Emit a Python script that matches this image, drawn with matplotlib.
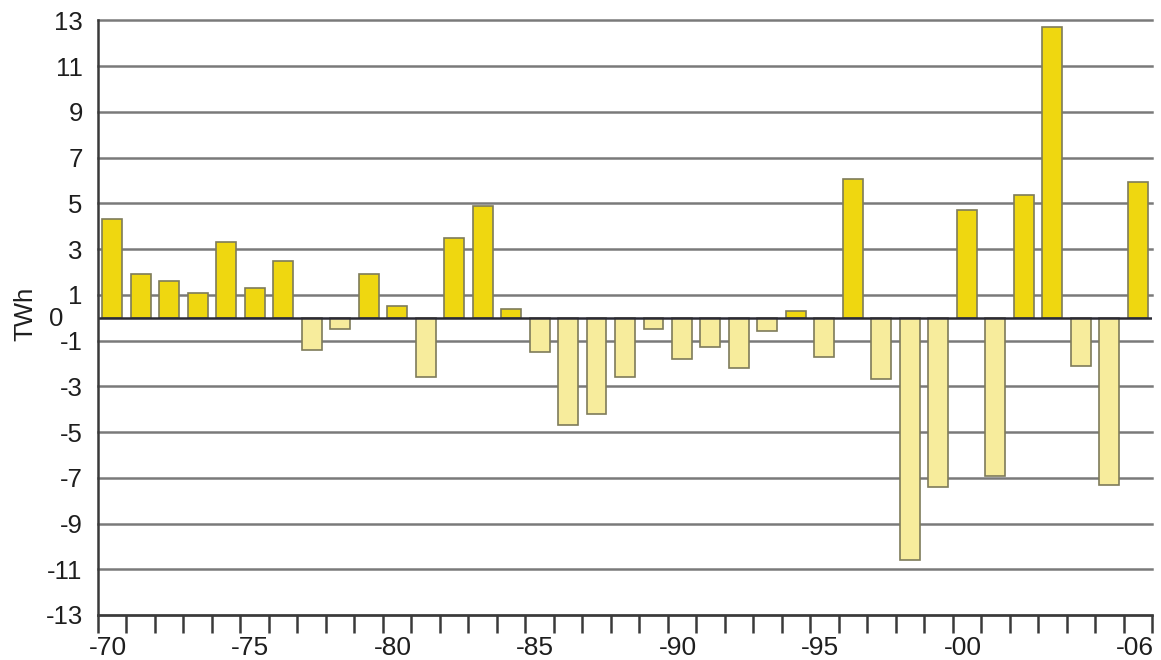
import matplotlib
matplotlib.use("Agg")
import matplotlib.pyplot as plt
import matplotlib.transforms as mtransforms
import numpy as np

years = list(range(1970, 2007))
values = [4.3, 1.9, 1.6, 1.1, 3.3, 1.3, 2.5, -1.4, -0.5, 1.9,
          0.5, -2.6, 3.5, 4.9, 0.4, -1.5, -4.7, -4.2, -2.6, -0.5,
          -1.8, -1.3, -2.2, -0.6, 0.3, -1.7, 6.05, -2.7, -10.6, -7.4,
          4.7, -6.9, 5.35, 12.7, -2.1, -7.3, 5.95]
y_ticks = [13, 11, 9, 7, 5, 3, 1, -1, -3, -5, -7, -9, -11, -13]
x_tick_labels = {1970: "-70", 1975: "-75", 1980: "-80", 1985: "-85", 1990: "-90",
                 1995: "-95", 2000: "-00", 2007: "-06"}
y_label = "TWh"

pos_color = "#EFD710"
neg_color = "#F7EC9C"
edge_color = "#7E7B5A"
text_color = "#1e1e1e"

plt.rcParams['font.family'] = ['Liberation Sans', 'DejaVu Sans']

fig = plt.figure(figsize=(11.61, 6.6), dpi=100)
ax = fig.add_axes([98 / 1161, 1 - 615 / 660, (1152 - 98) / 1161, (615 - 20.5) / 660])

x = np.array([y - 1970 + 0.5 for y in years])
vals = np.array(values)
colors = [pos_color if v >= 0 else neg_color for v in vals]
ax.bar(x, vals, width=0.7, color=colors, edgecolor=edge_color, linewidth=1.2, zorder=3)

ax.set_xlim(0, 37)
ax.set_ylim(-13, 13)

for t in y_ticks:
    ax.axhline(t, color="#7a7a7a", linewidth=1.8, zorder=1, clip_on=False)
ax.axhline(0, color="#2a2a35", linewidth=1.8, zorder=4)

ax.set_yticks(y_ticks)
ax.set_yticklabels([str(t) for t in y_ticks], fontsize=18.5, color=text_color)
ax.tick_params(axis='y', length=0, pad=11)

all_ticks = list(range(0, 38))
ax.set_xticks(all_ticks)
labels = [x_tick_labels.get(1970 + k, "") for k in all_ticks]
ax.set_xticklabels(labels, fontsize=19, color=text_color)
ax.tick_params(axis='x', length=13, width=1.8, color="#3a3a3a", pad=2)

for k, lab in zip(all_ticks, ax.get_xticklabels()):
    if k == 37:
        lab.set_horizontalalignment('right')
        off = mtransforms.ScaledTranslation(2 / 100, 0, fig.dpi_scale_trans)
    else:
        off = mtransforms.ScaledTranslation(10 / 100, 0, fig.dpi_scale_trans)
    lab.set_transform(lab.get_transform() + off)

for s in ['top', 'right']:
    ax.spines[s].set_visible(False)
for s in ['left', 'bottom']:
    ax.spines[s].set_color("#3a3a3a")
    ax.spines[s].set_linewidth(1.8)
    ax.spines[s].set_zorder(5)

fig.text(56 / 1161, 1 - 319 / 660, "0", fontsize=18.5, color=text_color,
         ha='center', va='center')
fig.text(25 / 1161, 1 - 314 / 660, y_label, rotation=90, fontsize=18.5,
         color=text_color, ha='center', va='center')

fig.savefig("out.png", dpi=100)
